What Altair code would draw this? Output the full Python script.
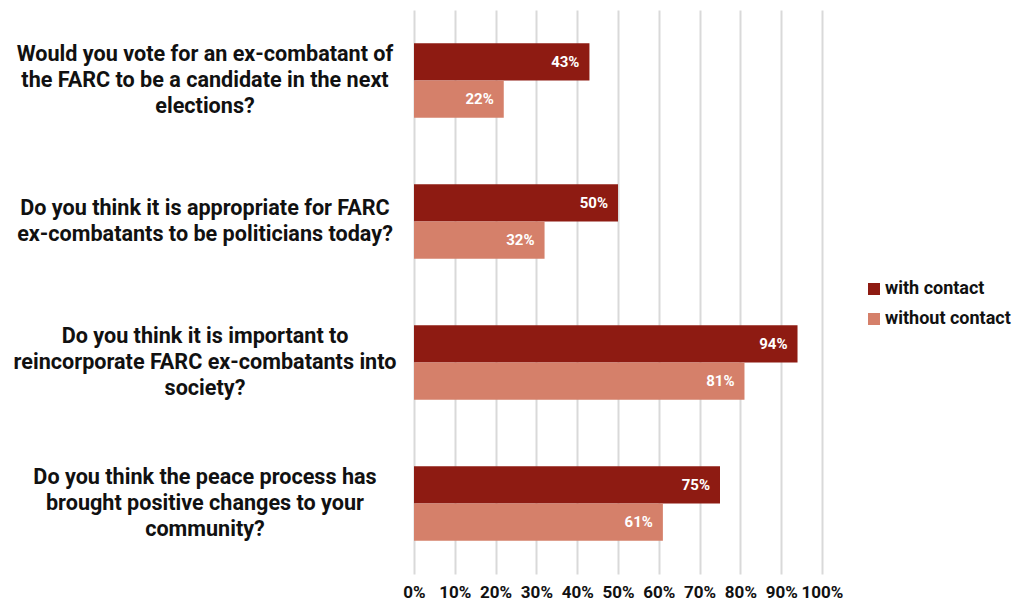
import altair as alt
import pandas as pd

questions = [
    "Would you vote for an ex-combatant of|the FARC to be a candidate in the next|elections?",
    "Do you think it is appropriate for FARC|ex-combatants to be politicians today?",
    "Do you think it is important to|reincorporate FARC ex-combatants into|society?",
    "Do you think the peace process has|brought positive changes to your|community?",
]
series = ["with contact", "without contact"]
with_contact = [0.43, 0.50, 0.94, 0.75]
without_contact = [0.22, 0.32, 0.81, 0.61]
colors = ["#8E1B12", "#D5806A"]

rows = []
for q, a, b in zip(questions, with_contact, without_contact):
    rows.append({"question": q, "group": series[0], "value": a})
    rows.append({"question": q, "group": series[1], "value": b})
df = pd.DataFrame(rows)
qdf = pd.DataFrame({"question": questions,
                    "nlines": [q.count("|") + 1 for q in questions]})

FONT = "Roboto"
LH = 26

y_enc = alt.Y(
    "question:N",
    sort=questions,
    scale=alt.Scale(paddingInner=0.47, paddingOuter=0.235),
    axis=None,
)
yoff = alt.YOffset("group:N", sort=series)

bars = alt.Chart(df).mark_bar().encode(
    x=alt.X(
        "value:Q",
        scale=alt.Scale(domain=[0, 1]),
        axis=alt.Axis(
            title=None,
            format=".0%",
            values=[i / 10 for i in range(11)],
            labelFontSize=17,
            labelFontWeight="bold",
            labelFont=FONT,
            labelColor="#111111",
            labelPadding=10,
            labelOverlap=False,
            labelFlush=False,
            ticks=False,
            domain=False,
            grid=True,
            gridColor="#d9d9d9",
            gridWidth=2,
        ),
    ),
    y=y_enc,
    yOffset=yoff,
    color=alt.Color(
        "group:N",
        sort=series,
        scale=alt.Scale(domain=series, range=colors),
        legend=alt.Legend(
            title=None,
            orient="none",
            legendX=451,
            legendY=270,
            symbolType="square",
            symbolSize=144,
            symbolStrokeWidth=0,
            labelOffset=2,
            labelFontSize=18,
            labelFontWeight="bold",
            labelFont=FONT,
            labelColor="#111111",
            rowPadding=12,
        ),
    ),
)

labels = alt.Chart(df).mark_text(
    align="right", baseline="middle", dx=-10, color="white",
    fontSize=15, fontWeight="bold", font=FONT,
).encode(
    x="value:Q",
    y=alt.Y("question:N", sort=questions),
    yOffset=yoff,
    text=alt.Text("value:Q", format=".0%"),
)

def qlayer(n):
    return alt.Chart(qdf).transform_filter(
        alt.datum.nlines == n
    ).mark_text(
        align="center", baseline="middle", lineBreak="|", lineHeight=LH,
        fontSize=21.6, fontWeight="bold", font=FONT, color="#111111",
        dy=-(n - 1) * LH / 2,
    ).encode(
        x=alt.value(-209),
        y=alt.Y("question:N", sort=questions),
        text="question:N",
    )

chart = (bars + labels + qlayer(2) + qlayer(3)).properties(
    width=408,
    height=564,
    autosize=alt.AutoSizeParams(type="none"),
    padding={"left": 414, "top": 10, "right": 194, "bottom": 32},
    background="white",
).configure_view(stroke=None)

chart.save("out.html", embed_options={"renderer": "svg", "actions": False})
